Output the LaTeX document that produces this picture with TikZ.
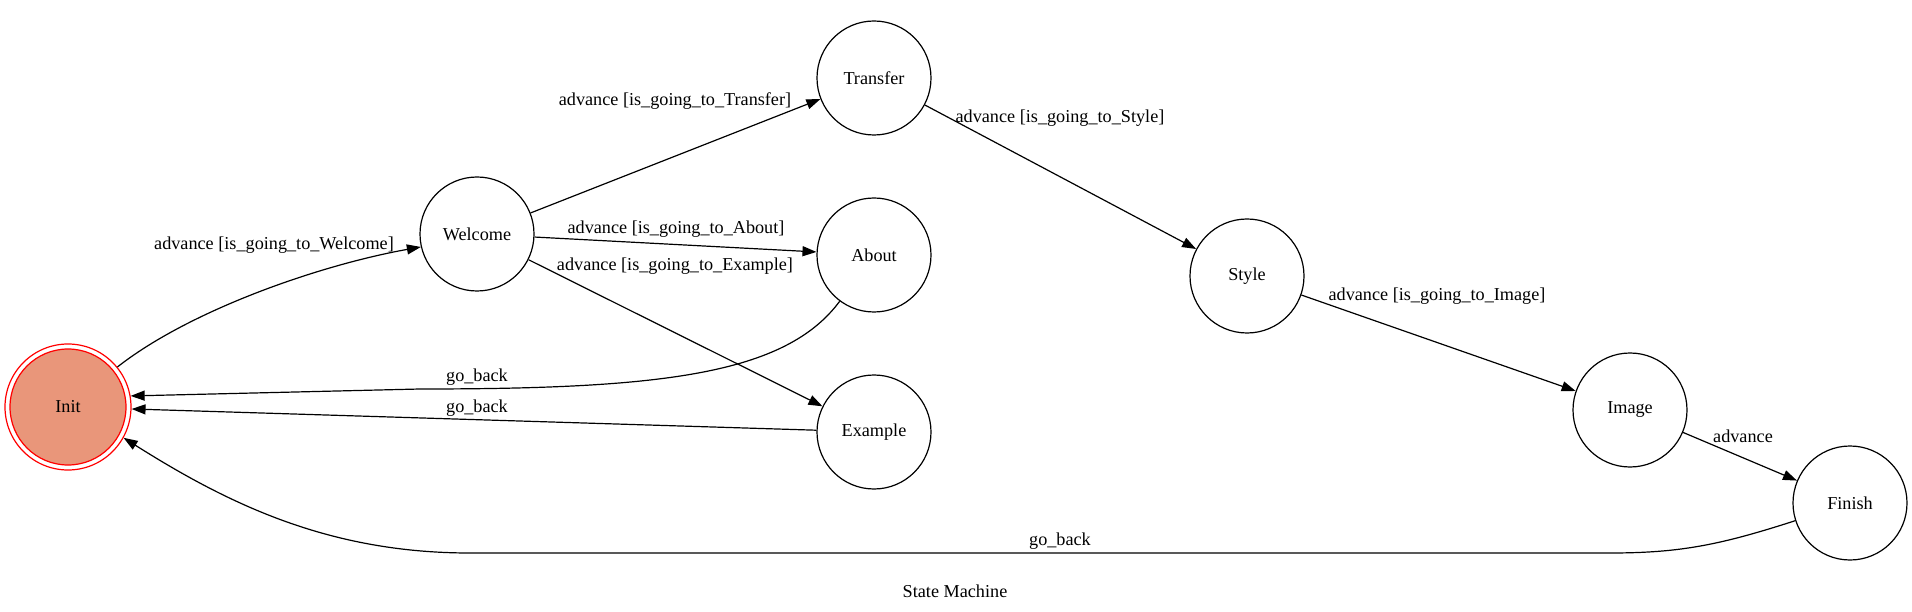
\documentclass[tikz,border=0pt]{standalone}
\usepackage{fontspec}
\setmainfont{Liberation Serif}
\usetikzlibrary{arrows.meta}
\definecolor{initfill}{RGB}{233,150,122}
\begin{document}
\begin{tikzpicture}[x=1pt,y=-1pt,
  every node/.style={font=\fontsize{18.2}{22}\selectfont},
  state/.style={circle,draw,line width=1.2pt,minimum size=114pt,inner sep=0pt},
  edge/.style={line width=1.2pt,-{Triangle[length=14pt,width=10pt]}},
  lbl/.style={inner sep=0pt}]
\useasboundingbox[fill=white] (0,0) rectangle (1912,612);
% states
\draw[red,line width=1.2pt,fill=initfill] (68,407) circle[radius=58];
\node[circle,draw=red,line width=1.2pt,minimum size=126pt,inner sep=0pt] (Init) at (68,407) {Init};
\node[state] (Welcome) at (477,234) {Welcome};
\node[state] (Transfer) at (874,78) {Transfer};
\node[state] (About) at (874,255) {About};
\node[state] (Example) at (874,432) {Example};
\node[state] (Style) at (1247,276) {Style};
\node[state] (Image) at (1630,410) {Image};
\node[state] (Finish) at (1850,503) {Finish};
% connectors
\draw[edge] (Init.39) .. controls (190,310) and (320,265) .. (Welcome.193);
\draw[edge] (Welcome) -- (Transfer);
\draw[edge] (Welcome) -- (About);
\draw[edge] (Welcome) -- (Example);
\draw[edge] (Transfer) -- (Style);
\draw[edge] (Style) -- (Image);
\draw[edge] (Image) -- (Finish);
\coordinate (ab) at (420,389);
\draw[edge] (About) .. controls (785,375) and (660,389) .. (ab) -- (Init.10);
\draw[edge] (Example) -- (Init);
\coordinate (fa) at (1610,553);
\coordinate (fb) at (470,553);
\draw[edge] (Finish) .. controls (1720,545) and (1680,553) .. (fa) -- (fb) .. controls (330,553) and (230,505) .. (Init.-29);
% labels
\node[lbl] (l1) at (274,245) {advance [is\_going\_to\_Welcome]};
\node[lbl] (l2) at (675,101) {advance [is\_going\_to\_Transfer]};
\node[lbl] (l3) at (676,229) {advance [is\_going\_to\_About]};
\node[lbl] (l4) at (675,266) {advance [is\_going\_to\_Example]};
\node[lbl] (l5) at (1060,118) {advance [is\_going\_to\_Style]};
\node[lbl] (l6) at (1437,296) {advance [is\_going\_to\_Image]};
\node[lbl] (l7) at (1743,436) {advance};
\node[lbl] (l8) at (477,377) {go\_back};
\node[lbl] (l9) at (477,408) {go\_back};
\node[lbl] (l10) at (1060,541) {go\_back};
\node[lbl] (title) at (955,591) {State Machine};
\end{tikzpicture}
\end{document}
